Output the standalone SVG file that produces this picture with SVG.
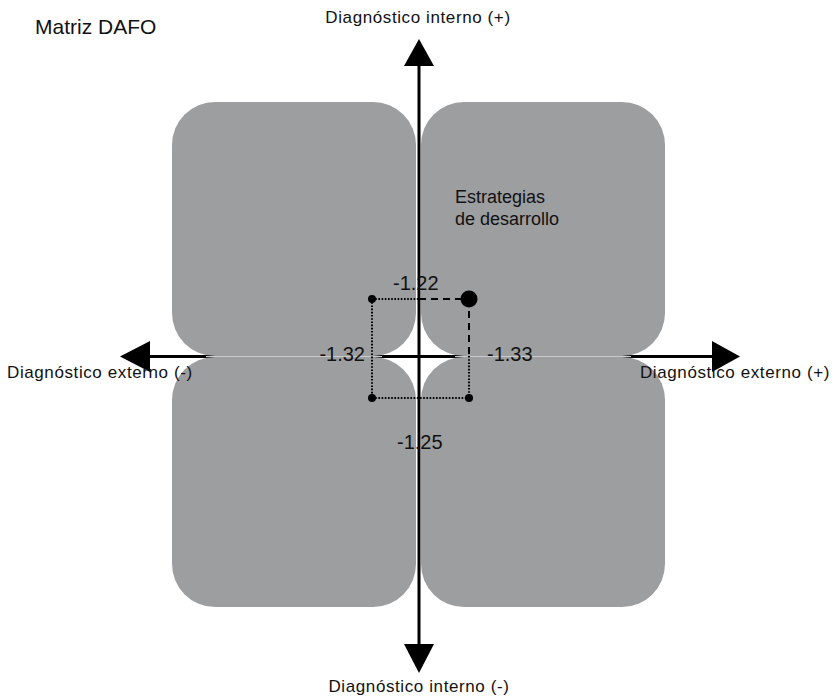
<svg xmlns="http://www.w3.org/2000/svg" width="834" height="698" viewBox="0 0 834 698">
<style>
.quad{fill:#9d9ea0}
.axis{stroke:#000;stroke-width:3;fill:none}
.head{fill:#000}
.sep{stroke:#cbcbcd;stroke-width:1}
.dot{stroke:#000;stroke-width:2;stroke-dasharray:1.6 1.6;fill:none}
.dash{stroke:#000;stroke-width:2;stroke-dasharray:7 5;fill:none}
.lbl{font-family:"Liberation Sans",Arial,sans-serif;font-size:17px;fill:#111;letter-spacing:0.6px}
.num{font-family:"Liberation Sans",Arial,sans-serif;font-size:20px;fill:#111}
.txt{font-family:"Liberation Sans",Arial,sans-serif;font-size:18px;fill:#111}
</style>
<rect width="834" height="698" fill="#fff"/>
<g id="connectors">
<line class="axis" x1="419" y1="64" x2="419" y2="646"/>
<line class="axis" x1="148" y1="356.5" x2="714" y2="356.5"/>
</g>
<g id="q-top-left"><rect class="quad" x="172" y="102" width="244" height="254" rx="43" ry="43"/></g>
<g id="q-top-right"><rect class="quad" x="421" y="102" width="244" height="254" rx="43" ry="43"/>
<text class="txt" x="455" y="203">Estrategias</text>
<text class="txt" x="455" y="225">de desarrollo</text></g>
<g id="q-bottom-left"><rect class="quad" x="172" y="357" width="244" height="250" rx="43" ry="43"/></g>
<g id="q-bottom-right"><rect class="quad" x="421" y="357" width="244" height="250" rx="43" ry="43"/></g>
<g id="separator">
<line class="sep" x1="206" y1="356.5" x2="382" y2="356.5"/>
<line class="sep" x1="455" y1="356.5" x2="631" y2="356.5"/>
</g>
<g id="arrowheads">
<polygon class="head" points="419,39 404,66 434,66"/>
<polygon class="head" points="419,673 404,644 434,644"/>
<polygon class="head" points="120,356.5 150,341 150,372"/>
<polygon class="head" points="740,356.5 712,341 712,372"/>
</g>
<g id="profile">
<line class="dot" x1="372" y1="299" x2="419" y2="299"/>
<line class="dash" x1="419" y1="299" x2="469" y2="299"/>
<line class="dash" x1="469" y1="299" x2="469" y2="356"/>
<line class="dot" x1="469" y1="356" x2="469" y2="398"/>
<line class="dot" x1="372" y1="398" x2="469" y2="398"/>
<line class="dot" x1="372" y1="299" x2="372" y2="398"/>
<circle cx="372" cy="299" r="4"/>
<circle cx="372" cy="398" r="4"/>
<circle cx="469" cy="398" r="4"/>
<circle cx="469" cy="299" r="8.5"/>
<text class="num" x="393" y="290">-1.22</text>
<text class="num" x="365" y="361" text-anchor="end">-1.32</text>
<text class="num" x="487" y="361">-1.33</text>
<text class="num" x="397" y="449">-1.25</text>
</g>
<g id="labels">
<text x="35" y="34" style="font-family:'Liberation Sans',Arial,sans-serif;font-size:21px;fill:#111">Matriz DAFO</text>
<text class="lbl" x="418" y="23" text-anchor="middle">Diagnóstico interno (+)</text>
<text class="lbl" x="419" y="692" text-anchor="middle">Diagnóstico interno (-)</text>
<text class="lbl" x="7" y="378">Diagnóstico externo (-)</text>
<text class="lbl" x="830" y="378" text-anchor="end">Diagnóstico externo (+)</text>
</g>
</svg>
